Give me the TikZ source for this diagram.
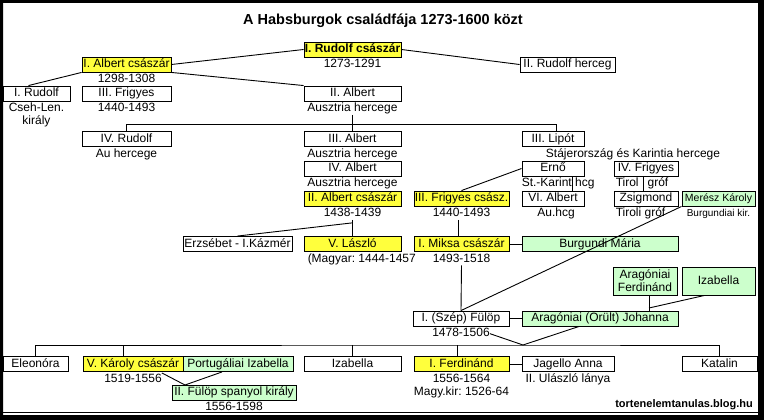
\documentclass[tikz,border=0pt]{standalone}
\usepackage{fontspec}
\setmainfont{Liberation Sans}
\usetikzlibrary{positioning, calc}
\definecolor{kyellow}{RGB}{255,255,60}
\definecolor{kgreen}{RGB}{204,255,204}
\frenchspacing

\begin{document}
\begin{tikzpicture}[
    x=1pt, y=-1pt,
    person/.style={rectangle, draw=black, line width=0.9pt, inner sep=0pt, minimum height=15pt, font=\fontsize{12}{14}\selectfont, text height=9pt, text depth=2.5pt},
    ruler/.style={person, fill=kyellow},
    spouse/.style={person, fill=kgreen},
    note/.style={inner sep=0pt, font=\fontsize{12}{14}\selectfont, text height=9pt, text depth=3pt},
    link/.style={draw=black, line width=0.9pt}
  ]
  \useasboundingbox (0,0) rectangle (764,420);
  \fill[even odd rule] (0,0) rectangle (764,420) (3,3) rectangle (758,415);
  \draw[line width=1pt] (3,412.5) -- (758,412.5);

  \node[font=\bfseries\fontsize{14.5}{17}\selectfont] (title) at (383,21) {A Habsburgok családfája 1273-1600 közt};

  % first generations
  \node[ruler, minimum width=97pt, font=\bfseries\fontsize{12}{14}\selectfont] (rudolfI) at (352.5,49.5) {I. Rudolf császár};
  \node[note, below=1pt of rudolfI] (rudolfIcap) {1273-1291};
  \node[ruler, minimum width=89pt] (albertI) at (126.5,64.5) {I. Albert császár};
  \node[note, below=1pt of albertI] (albertIcap) {1298-1308};
  \node[person, minimum width=95pt] (rudolfII) at (567.5,64.5) {II. Rudolf herceg};

  \node[person, minimum width=67pt] (rudolfCs) at (36.5,93.5) {I. Rudolf};
  \node[note, below=1pt of rudolfCs] (rudolfCscap) {Cseh-Len.};
  \node[note, below=0pt of rudolfCscap] (rudolfCscapB) {király};
  \node[person, minimum width=89pt] (frigyesIII) at (126.5,93.5) {III. Frigyes};
  \node[note, below=1pt of frigyesIII] (frigyesIIIcap) {1440-1493};
  \node[person, minimum width=97pt] (albertII) at (352.5,93.5) {II. Albert};
  \node[note, below=1pt of albertII] (albertIIcap) {Ausztria hercege};

  % Austrian and Styrian lines
  \node[person, minimum width=89pt] (rudolfIV) at (126.5,139) {IV. Rudolf};
  \node[note, below=1pt of rudolfIV] (rudolfIVcap) {Au hercege};
  \node[person, minimum width=97pt] (albertIII) at (352.5,139) {III. Albert};
  \node[note, below=1pt of albertIII] (albertIIIcap) {Ausztria hercege};
  \node[person, minimum width=62pt] (lipotIII) at (553,139) {III. Lipót};
  \node[note, below=1pt of lipotIII, xshift=80pt] (lipotIIIcap) {Stájerország és Karintia hercege};

  \node[person, minimum width=97pt] (albertIV) at (352.5,168.5) {IV. Albert};
  \node[note, below=1pt of albertIV] (albertIVcap) {Ausztria hercege};
  \node[person, minimum width=62pt] (erno) at (553,168.5) {Ernő};
  \node[note, below right=1pt and 0pt of erno.south west] (ernocap) {St.-Karint hcg};
  \node[person, minimum width=64pt] (frigyesIV) at (646,168.5) {IV. Frigyes};
  \node[note, below right=1pt and 2pt of frigyesIV.south west] (frigyesIVcap) {Tirol\hspace{9pt}gróf};

  \node[ruler, minimum width=97pt] (albertIIcs) at (352.5,198.5) {II. Albert császár};
  \node[note, below=1pt of albertIIcs] (albertIIcscap) {1438-1439};
  \node[ruler, minimum width=95pt] (frigyesIIIcs) at (461.5,198.5) {III. Frigyes csász.};
  \node[note, below=1pt of frigyesIIIcs] (frigyesIIIcscap) {1440-1493};
  \node[person, minimum width=62pt] (albertVI) at (553,198.5) {VI. Albert};
  \node[note, below=1pt of albertVI, xshift=3pt] (albertVIcap) {Au.hcg};
  \node[person, minimum width=64pt] (zsigmond) at (646,198.5) {Zsigmond};
  \node[note, below right=1pt and 2pt of zsigmond.south west] (zsigmondcap) {Tiroli gróf};
  \node[spouse, minimum width=73pt, font=\fontsize{10.5}{12}\selectfont] (karoly) at (718.5,198.5) {Merész Károly};
  \node[note, below=1pt of karoly, font=\fontsize{10}{12}\selectfont] (karolycap) {Burgundiai kir.};

  % Albertine and Leopoldine heirs
  \node[person, minimum width=109pt] (erzsebet) at (237.5,244) {Erzsébet - I.Kázmér};
  \node[ruler, minimum width=97pt] (laszlo) at (352.5,244) {V. László};
  \node[note, below right=1pt and 4pt of laszlo.south west] (laszlocap) {(Magyar: 1444-1457};
  \node[ruler, minimum width=95pt] (miksa) at (461.5,244) {I. Miksa császár};
  \node[note, below=1pt of miksa] (miksacap) {1493-1518};
  \node[spouse, minimum width=156pt] (maria) at (600,244) {Burgundi Mária};

  \node[spouse, minimum width=64pt, minimum height=28pt, text height=, text depth=, align=center, font=\fontsize{12}{13}\selectfont] (ferdinandA) at (645,281) {Aragóniai\\Ferdinánd};
  \node[spouse, minimum width=73pt, minimum height=28pt] (izabellaA) at (718.5,281) {Izabella};

  \node[person, minimum width=96pt] (fulop) at (461,318.5) {I. (Szép) Fülöp};
  \node[note, below=1pt of fulop] (fulopcap) {1478-1506};
  \node[spouse, minimum width=156pt] (johanna) at (600,318.5) {Aragóniai (Örült) Johanna};

  % children of Philip and Joanna
  \node[person, minimum width=65pt] (eleonora) at (35.5,364) {Eleonóra};
  \node[ruler, minimum width=100pt] (karolyV) at (133,364) {V. Károly császár};
  \node[note, below=1pt of karolyV] (karolyVcap) {1519-1556};
  \node[spouse, minimum width=110pt] (izabellaP) at (238,364) {Portugáliai Izabella};
  \node[person, minimum width=97pt] (izabella) at (352.5,364) {Izabella};
  \node[ruler, minimum width=95pt] (ferdinandI) at (461.5,364) {I. Ferdinánd};
  \node[note, below=1pt of ferdinandI] (ferdinandIcap) {1556-1564};
  \node[note, below=1pt of ferdinandIcap] (ferdinandIcapB) {Magy.kir: 1526-64};
  \node[person, minimum width=92pt] (anna) at (568,364) {Jagello Anna};
  \node[note, below=1pt of anna] (annacap) {II. Ulászló lánya};
  \node[person, minimum width=75pt] (katalin) at (719.5,364) {Katalin};

  \node[spouse, minimum width=124pt] (fulopII) at (234,392.5) {II. Fülöp spanyol király};
  \node[note, below=1pt of fulopII] (fulopIIcap) {1556-1598};

  \node[anchor=east, inner sep=0pt, font=\bfseries\fontsize{11}{13}\selectfont] (blog) at (753,405) {tortenelemtanulas.blog.hu};

  % connectors
  \draw[link] (albertI.east) -- (rudolfI.west);
  \draw[link] (rudolfI.east) -- (rudolfII.west);
  \draw[link] (albertI.south east) -- (albertII.north west);
  \draw[link] (albertI.south west) -- ($(rudolfCs.north)+(-8,0)$);

  \coordinate (forkA) at ($(albertIIcap.south)+(0,10)$);
  \draw[link] (albertIIcap.south) -- (albertIII.north);
  \draw[link] (rudolfIV.north) |- (forkA) -| ([xshift=3pt]lipotIII.north);

  \draw[link] (frigyesIIIcs.north) -- (erno.west);
  \draw[link] ([xshift=19pt]erno.south) -- ([xshift=19pt]albertVI.north);
  \draw[link] ([xshift=-3pt]frigyesIV.south) -- ([xshift=-3pt]zsigmond.north);

  \draw[link] (albertIIcscap.south) -- (laszlo.north);
  \draw[link] ($(albertIIcscap.south)+(0,3)$) -- (erzsebet.north);
  \draw[link] ([xshift=-3pt]frigyesIIIcscap.south) -- ([xshift=-3pt]miksa.north);
  \draw[link] (miksa.east) -- (maria.west);
  \draw[link] (miksacap.south) -- (fulop.north);
  \draw[link] (karoly.south west) -- (fulop.north);

  \coordinate (wedA) at (649,308);
  \draw[link] ([xshift=4pt]ferdinandA.south) -- ([xshift=4pt]ferdinandA.south |- johanna.north);
  \draw[link] ([xshift=-14pt]izabellaA.south) -- (wedA);
  \draw[link] (fulop.east) -- (johanna.west);

  \coordinate (kidsA) at (523,345);
  \draw[link] (fulopcap.east) -- (kidsA) -- ([xshift=-21pt]johanna.south);
  \draw[link] (eleonora.north) |- (kidsA) -| (katalin.north);
  \draw[link] ([xshift=-10pt]karolyV.north) -- ([xshift=-10pt]karolyV.north |- kidsA);
  \draw[link] (izabella.north) -- (izabella.north |- kidsA);
  \draw[link] ([xshift=-4pt]ferdinandI.north) -- ([xshift=-4pt]ferdinandI.north |- kidsA);
  \draw[link] (ferdinandI.east) -- (anna.west);

  \coordinate (kidsB) at (185,385);
  \draw[link] (karolyVcap.north east) -- (kidsB) -- ([xshift=-16pt]izabellaP.south);
\end{tikzpicture}
\end{document}
